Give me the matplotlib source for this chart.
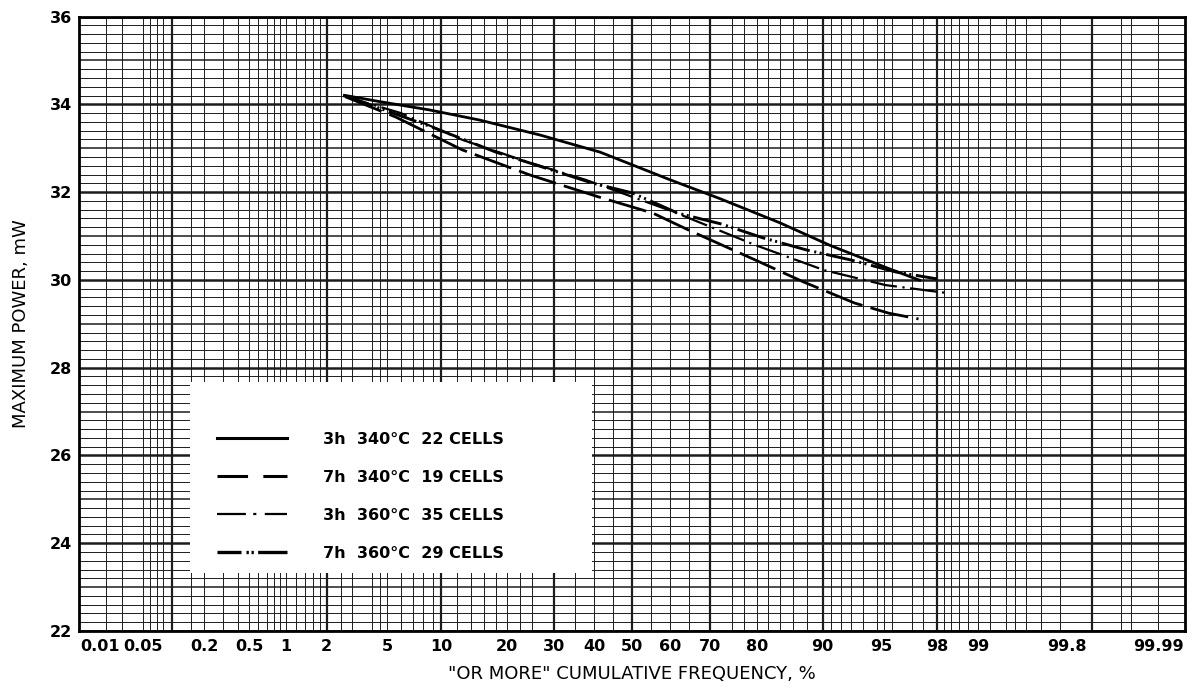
import numpy as np
import matplotlib
matplotlib.use("Agg")
import matplotlib.pyplot as plt
from matplotlib.patches import Rectangle
from matplotlib.lines import Line2D
from matplotlib.transforms import ScaledTranslation
from statistics import NormalDist

# ---------------- data (percent "or more", maximum power mW) ----------------
s1_label = "3h  340°C  22 CELLS"
s1_pct = [2.6, 4.5, 8.7, 15.3, 26.8, 41.5, 60.1, 72.3, 84.0, 90.8, 95.7, 97.4]
s1_mw = [34.21, 34.06, 33.87, 33.64, 33.30, 32.91, 32.28, 31.85, 31.30, 30.79, 30.27, 29.98]

s2_label = "7h  340°C  19 CELLS"
s2_pct = [2.7, 5.6, 12.7, 24.6, 41.1, 55.6, 64.7, 79.7, 87.6, 93.3, 95.8, 97.3]
s2_mw = [34.17, 33.71, 32.96, 32.39, 31.89, 31.52, 31.14, 30.45, 29.95, 29.47, 29.24, 29.11]

s3_label = "3h  360°C  35 CELLS"
s3_pct = [2.6, 6.0, 12.7, 24.0, 37.7, 61.0, 79.7, 90.2, 95.6, 98.3]
s3_mw = [34.19, 33.80, 33.19, 32.69, 32.28, 31.55, 30.79, 30.22, 29.88, 29.70]

s4_label = "7h  360°C  29 CELLS"
s4_pct = [2.7, 4.8, 9.2, 18.0, 39.3, 50.1, 62.1, 72.7, 81.0, 88.0, 93.0, 96.2, 98.0]
s4_mw = [34.19, 33.87, 33.46, 32.91, 32.21, 31.98, 31.52, 31.27, 30.96, 30.68, 30.45, 30.18, 30.02]

x_ticks = [0.01, 0.05, 0.2, 0.5, 1, 2, 5, 10, 20, 30, 40, 50, 60, 70, 80, 90, 95, 98, 99, 99.8, 99.99]
x_tick_labels = ["0.01", "0.05", "0.2", "0.5", "1", "2", "5", "10", "20", "30", "40", "50",
                 "60", "70", "80", "90", "95", "98", "99", "99.8", "99.99"]
y_ticks = [22, 24, 26, 28, 30, 32, 34, 36]
y_tick_labels = ["22", "24", "26", "28", "30", "32", "34", "36"]

# probability-paper grid
grid_low_tail = [0.01, 0.02, 0.03, 0.05, 0.06, 0.07, 0.08, 0.1, 0.15, 0.2, 0.3, 0.4, 0.5,
                 0.6, 0.7, 0.8, 0.9]
grid_mid = [1, 1.2, 1.4, 1.6, 1.8, 2, 2.5, 3, 4, 4.5, 5, 6, 7, 8, 9, 10, 12, 14, 16, 18,
            20, 22.5, 25, 30, 35, 40, 45]          # mirrored about 50
grid_high_tail = [99.2, 99.4, 99.5, 99.6, 99.7, 99.8, 99.9, 99.95, 99.96, 99.98, 99.99]
grid_major = [0.1, 2, 10, 30, 50, 70, 90, 98, 99.9]

# ---------------- layout (pixels) ----------------
W, H = 1198, 689
AX_L, AX_R, AX_T, AX_B = 79, 1185, 16.5, 631
label_dx = {"0.01": 1, "95": 5, "99.8": 7, "99.99": -1}   # x-tick label nudges, px
label_ha = {"0.01": "left", "99.99": "right"}

# ---------------- probability scale ----------------
_nd = NormalDist()
_ppf = np.vectorize(lambda q: _nd.inv_cdf(min(max(q, 1e-12), 1 - 1e-12)), otypes=[float])
_cdf = np.vectorize(_nd.cdf, otypes=[float])


def fwd(p):
    return _ppf(np.asarray(p, dtype=float) / 100.0)


def inv(z):
    return _cdf(np.asarray(z, dtype=float)) * 100.0


fig = plt.figure(figsize=(W / 100, H / 100), dpi=100)
ax = fig.add_axes([AX_L / W, 1 - AX_B / H, (AX_R - AX_L) / W, (AX_B - AX_T) / H])
ax.set_xscale("function", functions=(fwd, inv))
ax.set_xlim(0.01, 99.99)
ax.set_ylim(22, 36)

# grid
gc = "#1c1c1c"
for v in np.arange(22, 36.01, 0.2):
    vr = round(v, 1)
    if abs(vr - round(vr)) < 1e-6 and int(round(vr)) % 2 == 0:
        lw = 1.8
    elif abs(vr - round(vr)) < 1e-6:
        lw = 1.1
    else:
        lw = 0.7
    ax.axhline(vr, color=gc, lw=lw, zorder=1)
grid_all = sorted(set(grid_low_tail + grid_mid + [50] + [round(100 - g, 2) for g in grid_mid]
                      + grid_high_tail))
for g in grid_all:
    ax.axvline(g, color=gc, lw=(1.6 if g in grid_major else 0.7), zorder=1)

# legend background (white box cut out of the grid)
ax.add_patch(Rectangle((0.1004, 0.0944), 0.3635, 0.311, transform=ax.transAxes,
                       facecolor="white", edgecolor="none", zorder=2))

kw = dict(color="black", zorder=3, solid_capstyle="butt", dash_capstyle="butt")
ax.plot(s1_pct, s1_mw, lw=2.0, ls="-", **kw)
ax.plot(s2_pct, s2_mw, lw=2.0, ls=(0, (14, 3)), **kw)
ax.plot(s3_pct, s3_mw, lw=1.6, ls=(0, (12, 2.5, 1.0, 2.5)), **kw)
ax.plot(s4_pct, s4_mw, lw=2.1, ls=(0, (10, 1.6, 0.7, 1.2, 0.7, 1.6)), **kw)

# legend handles
h1 = Line2D([], [], color="black", lw=2.2, ls="-")
h2 = Line2D([], [], color="black", lw=2.2, ls=(0, (10, 5)))
h3 = Line2D([], [], color="black", lw=1.6, ls=(0, (13, 3.3, 1.4, 3.8)))
h4 = Line2D([], [], color="black", lw=2.4, ls=(0, (7.2, 1.5, 0.7, 0.8, 0.7, 1.3, 12, 2)))
leg = ax.legend([h1, h2, h3, h4], [s1_label, s2_label, s3_label, s4_label],
                loc="upper left", bbox_to_anchor=(0.1248, 0.3237), frameon=False,
                handlelength=4.4, handletextpad=2.25, labelspacing=1.44, borderpad=0,
                prop=dict(size=11.5, weight="bold"), borderaxespad=0)
leg.set_zorder(4)

# ticks / labels
ax.set_xticks(x_ticks)
ax.set_xticklabels(x_tick_labels)
ax.set_yticks(y_ticks)
ax.set_yticklabels(y_tick_labels)
ax.xaxis.set_minor_locator(matplotlib.ticker.NullLocator())
ax.yaxis.set_minor_locator(matplotlib.ticker.NullLocator())
ax.tick_params(axis="x", length=0, labelsize=11.5, pad=6)
ax.tick_params(axis="y", length=0, labelsize=11.5, pad=5)
for t in ax.get_xticklabels() + ax.get_yticklabels():
    t.set_fontweight("bold")
for t in ax.get_xticklabels():
    txt = t.get_text()
    if txt in label_ha:
        t.set_horizontalalignment(label_ha[txt])
    dx = label_dx.get(txt, 0)
    if dx:
        t.set_transform(t.get_transform() + ScaledTranslation(dx / 100, 0, fig.dpi_scale_trans))

for sp in ax.spines.values():
    sp.set_linewidth(2.0)
    sp.set_zorder(5)

ax.set_xlabel('"OR MORE" CUMULATIVE FREQUENCY, %', fontsize=13, labelpad=8)
ax.set_ylabel("MAXIMUM POWER, mW", fontsize=13, labelpad=14)

fig.savefig("out.png", dpi=100)
